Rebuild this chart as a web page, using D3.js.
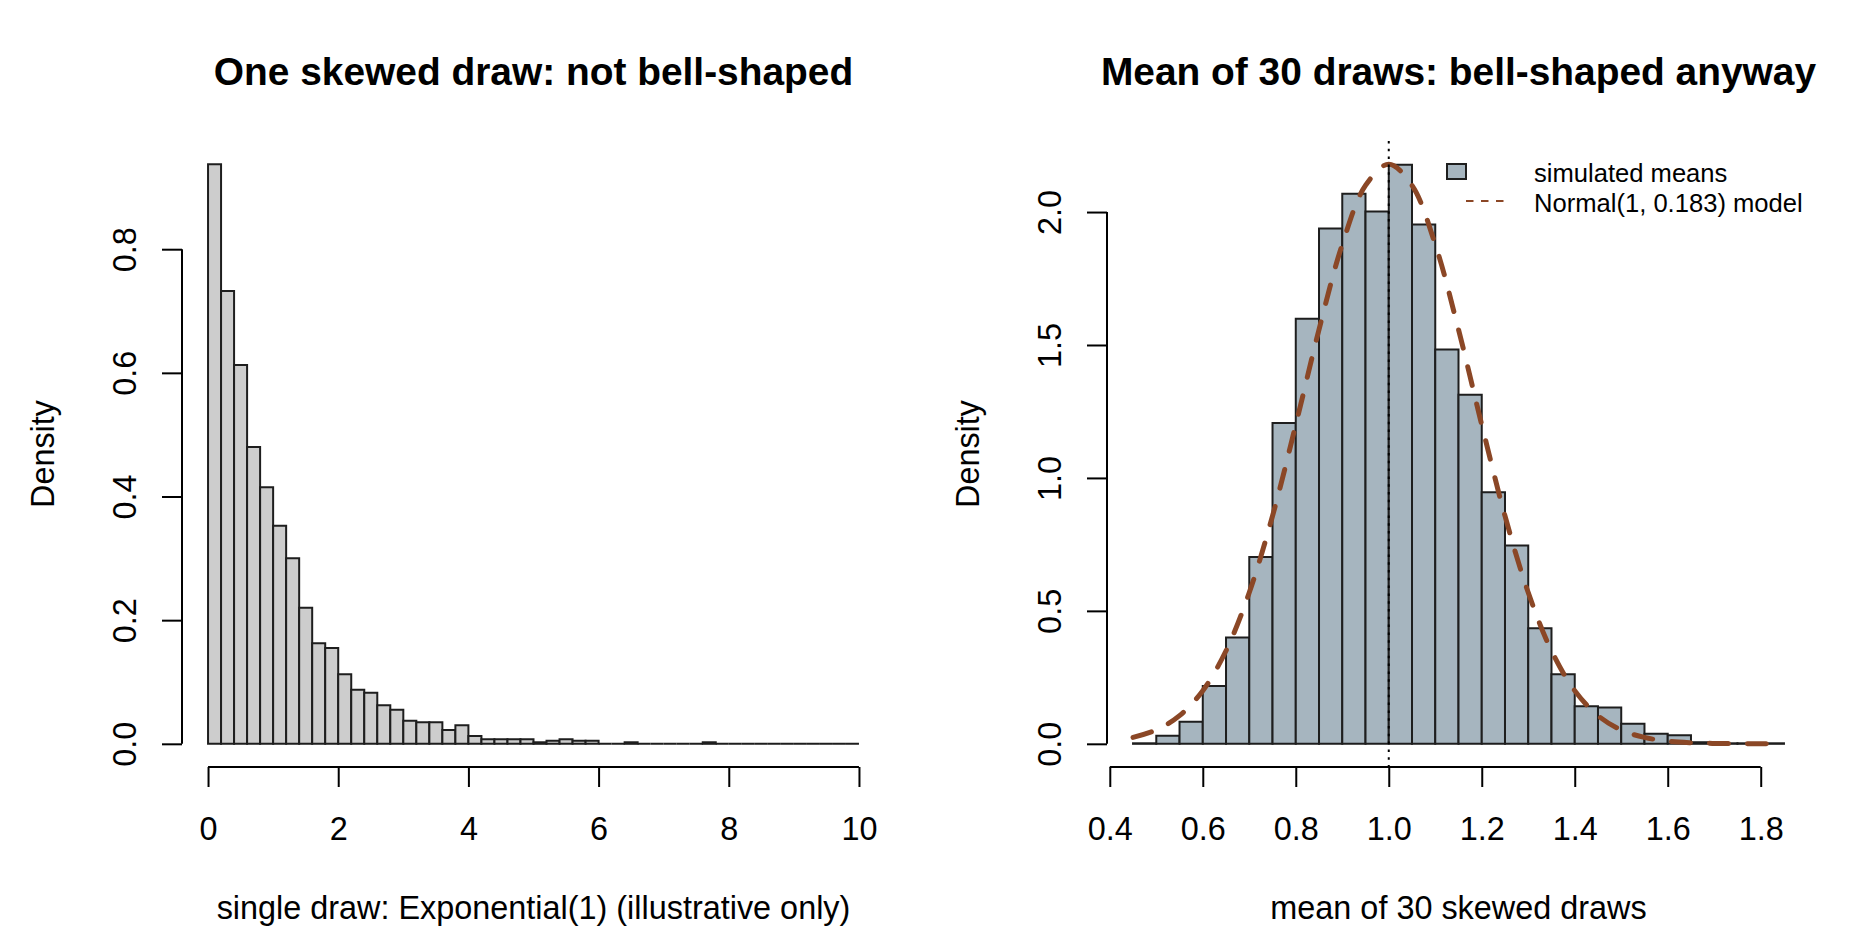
<!DOCTYPE html>
<html>
<head>
<meta charset="utf-8">
<script src="https://cdn.jsdelivr.net/npm/d3@7"></script>
<style>
  body { margin: 0; background: #fff; }
  svg { display: block; font-family: "Liberation Sans", Arial, sans-serif; }
</style>
</head>
<body>
<div id="chart"></div>
<script>
// left panel: 2000 single Exponential(1) draws, bins of width 0.2 on [0, 10]
const leftStart = 0;
const leftBinWidth = 0.2;
const leftDensity = [
  0.9375, 0.7325, 0.6125, 0.480, 0.415, 0.3525, 0.300, 0.220, 0.1625, 0.155,
  0.1125, 0.0875, 0.0825, 0.0625, 0.055, 0.0375, 0.035, 0.035, 0.0225, 0.030,
  0.0125, 0.0075, 0.0075, 0.0075, 0.0075, 0.0025, 0.005, 0.0075, 0.005, 0.005,
  0, 0, 0.0025, 0, 0, 0, 0, 0, 0.0025, 0,
  0, 0, 0, 0, 0, 0, 0, 0, 0, 0
];
const leftXTicks = [0, 2, 4, 6, 8, 10];
const leftYTicks = [0, 0.2, 0.4, 0.6, 0.8];

// right panel: means of 30 draws, bins of width 0.05 on [0.45, 1.85]
const rightStart = 0.45;
const rightBinWidth = 0.05;
const rightDensity = [
  0.002, 0.030, 0.083, 0.217, 0.400, 0.703, 1.207, 1.599, 1.938, 2.069,
  2.002, 2.178, 1.953, 1.483, 1.313, 0.946, 0.746, 0.435, 0.262, 0.141,
  0.137, 0.075, 0.038, 0.032, 0.006, 0.002, 0.002, 0.002
];
// Normal(1, 0.183) model curve
const curveX = [
  0.45, 0.50, 0.55, 0.60, 0.65, 0.70, 0.75, 0.80, 0.85, 0.90,
  0.95, 1.00, 1.05, 1.10, 1.15, 1.20, 1.25, 1.30, 1.35, 1.40,
  1.45, 1.50, 1.55, 1.60, 1.65, 1.70, 1.75, 1.80, 1.85
];
const curveY = [
  0.024, 0.052, 0.106, 0.200, 0.350, 0.569, 0.857, 1.200, 1.558, 1.878,
  2.100, 2.180, 2.100, 1.878, 1.558, 1.200, 0.857, 0.569, 0.350, 0.200,
  0.106, 0.052, 0.024, 0.010, 0.004, 0.0015, 0.0005, 0.0002, 0
];
const rightXTicks = [0.4, 0.6, 0.8, 1.0, 1.2, 1.4, 1.6, 1.8];
const rightYTicks = [0, 0.5, 1.0, 1.5, 2.0];

const width = 1850;
const height = 950;
const plotTop = 141, plotBottom = 767;
const baseFont = 32.4;

const svg = d3.select("#chart")
  .append("svg")
  .attr("width", width)
  .attr("height", height);

// R style: usr range is the data limits stretched by 4% on each side
function padded(lim) {
  const e = (lim[1] - lim[0]) * 0.04;
  return [lim[0] - e, lim[1] + e];
}

function drawPanel(p) {
  const x = d3.scaleLinear().domain(padded(p.xlim)).range([p.left, p.left + 703]);
  const y = d3.scaleLinear().domain(padded(p.ylim)).range([plotBottom, plotTop]);
  const g = svg.append("g");

  // bars as paths so that empty bins still show as a line on the baseline
  g.append("g")
    .selectAll("path")
    .data(p.density)
    .join("path")
      .attr("d", (d, i) => {
        const x0 = x(p.start + i * p.binWidth), x1 = x(p.start + (i + 1) * p.binWidth);
        return "M" + x0 + "," + y(0) + "V" + y(d) + "H" + x1 + "V" + y(0) + "Z";
      })
      .attr("fill", p.fill)
      .attr("stroke", "#1e1e1e")
      .attr("stroke-width", 2);

  if (p.extra) p.extra(g, x, y);

  // x axis
  const xa = g.append("g")
    .attr("transform", "translate(0," + plotBottom + ")")
    .call(d3.axisBottom(x).tickValues(p.xTicks).tickFormat(p.xFormat).tickSize(20));
  xa.select(".domain").remove();
  xa.append("line")
    .attr("x1", x(p.xTicks[0])).attr("x2", x(p.xTicks[p.xTicks.length - 1]))
    .attr("stroke", "#000").attr("stroke-width", 2);
  xa.selectAll(".tick line").attr("stroke-width", 2);
  xa.selectAll(".tick text")
    .attr("y", 73).attr("dy", 0)
    .attr("font-size", baseFont).attr("font-family", "Liberation Sans, Arial, sans-serif")
    .attr("fill", "#000");

  // y axis, labels turned like R's las = 0
  const ya = g.append("g")
    .attr("transform", "translate(" + p.left + ",0)")
    .call(d3.axisLeft(y).tickValues(p.yTicks).tickFormat(d3.format(".1f")).tickSize(20));
  ya.select(".domain").remove();
  ya.append("line")
    .attr("y1", y(p.yTicks[0])).attr("y2", y(p.yTicks[p.yTicks.length - 1]))
    .attr("stroke", "#000").attr("stroke-width", 2);
  ya.selectAll(".tick line").attr("stroke-width", 2);
  ya.selectAll(".tick text")
    .attr("x", 0).attr("dy", 0)
    .attr("transform", "translate(-46,0) rotate(-90)")
    .attr("text-anchor", "middle")
    .attr("font-size", baseFont).attr("font-family", "Liberation Sans, Arial, sans-serif")
    .attr("fill", "#000");

  const cx = p.left + 703 / 2;
  g.append("text")
    .attr("x", cx).attr("y", 85)
    .attr("text-anchor", "middle")
    .attr("font-size", baseFont * 1.2).attr("font-weight", "bold")
    .text(p.title);
  g.append("text")
    .attr("x", cx).attr("y", 919)
    .attr("text-anchor", "middle")
    .attr("font-size", baseFont)
    .text(p.xlab);
  g.append("text")
    .attr("transform", "translate(" + (p.left - 128) + "," + ((plotTop + plotBottom) / 2) + ") rotate(-90)")
    .attr("text-anchor", "middle")
    .attr("font-size", baseFont)
    .text("Density");
}

drawPanel({
  left: 182,
  xlim: [0, 10],
  ylim: [0, d3.max(leftDensity)],
  start: leftStart,
  binWidth: leftBinWidth,
  density: leftDensity,
  fill: "#cdcdcd",
  xTicks: leftXTicks,
  xFormat: d3.format("d"),
  yTicks: leftYTicks,
  title: "One skewed draw: not bell-shaped",
  xlab: "single draw: Exponential(1) (illustrative only)"
});

drawPanel({
  left: 1107,
  xlim: [rightStart, rightStart + rightDensity.length * rightBinWidth],
  ylim: [0, d3.max(curveY)],
  start: rightStart,
  binWidth: rightBinWidth,
  density: rightDensity,
  fill: "#a6b5bf",
  xTicks: rightXTicks,
  xFormat: d3.format(".1f"),
  yTicks: rightYTicks,
  title: "Mean of 30 draws: bell-shaped anyway",
  xlab: "mean of 30 skewed draws",
  extra: (g, x, y) => {
    const line = d3.line()
      .x((d, i) => x(curveX[i]))
      .y(d => y(d))
      .curve(d3.curveCatmullRom);
    g.append("path")
      .attr("d", line(curveY))
      .attr("fill", "none")
      .attr("stroke", "#8b4726")
      .attr("stroke-width", 5)
      .attr("stroke-dasharray", "19,19")
      .attr("stroke-linecap", "round");

    // dotted reference line at the model mean
    g.append("line")
      .attr("x1", x(1)).attr("x2", x(1))
      .attr("y1", plotTop).attr("y2", plotBottom)
      .attr("stroke", "#000")
      .attr("stroke-width", 2)
      .attr("stroke-dasharray", "2.5,5.3");

    // legend
    const lg = g.append("g");
    lg.append("rect")
      .attr("x", 1447).attr("y", 164).attr("width", 19).attr("height", 15)
      .attr("fill", "#a6b5bf").attr("stroke", "#1e1e1e").attr("stroke-width", 2);
    lg.append("line")
      .attr("x1", 1466).attr("x2", 1508).attr("y1", 201).attr("y2", 201)
      .attr("stroke", "#8b4726").attr("stroke-width", 2.2)
      .attr("stroke-dasharray", "7.5,7.5");
    lg.selectAll("text")
      .data(["simulated means", "Normal(1, 0.183) model"])
      .join("text")
        .attr("x", 1534)
        .attr("y", (d, i) => 182 + i * 30)
        .attr("font-size", baseFont * 0.79)
        .text(d => d);
  }
});
</script>
</body>
</html>
